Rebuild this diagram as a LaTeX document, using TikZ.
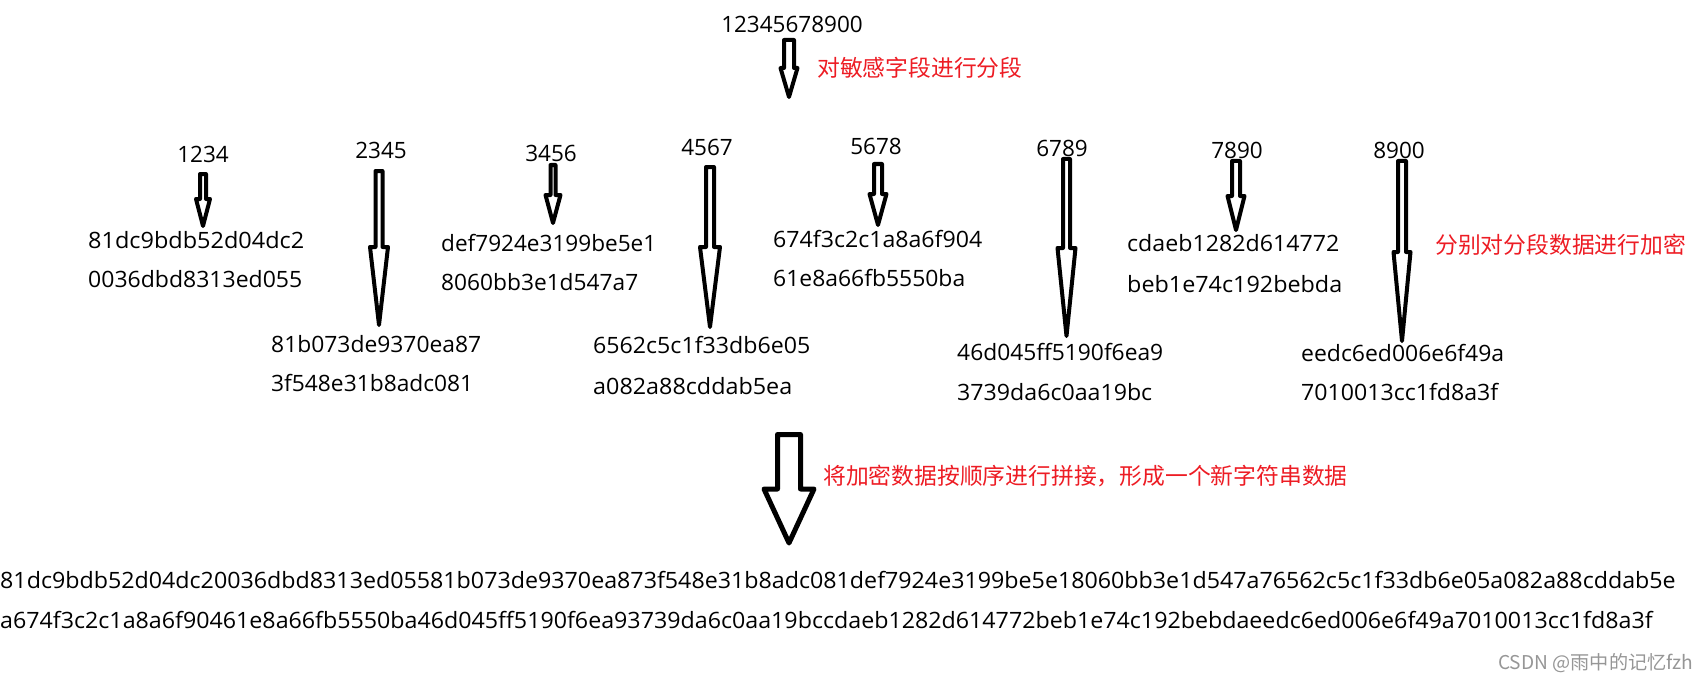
\documentclass[tikz,border=0pt]{standalone}
\usepackage{fontspec}
\usepackage{graphicx}
\setmainfont{Open Sans}
\newfontfamily\cjk{Noto Sans CJK SC}
\definecolor{notered}{RGB}{237,28,36}
\definecolor{wmgray}{RGB}{150,150,150}
\tikzset{
  num/.style={inner sep=0pt, font=\fontsize{22.5}{27}\selectfont},
  hexs/.style={inner sep=0pt, anchor=west, font=\fontsize{22.5}{27}\selectfont},
  note/.style={inner sep=0pt, anchor=west, text=notered, font=\cjk\fontsize{22.8}{27}\selectfont},
  blk/.style={draw=black, fill=white, line join=round},
}
% [line width] cx, top, headY, tip, shaft half width, head half width
\newcommand\blockarrow[7][4]{%
  \draw[blk, line width=#1pt] ({#2-#6},#3) -- ({#2+#6},#3) -- ({#2+#6},#4) -- ({#2+#7},#4)
    -- (#2,#5) -- ({#2-#7},#4) -- ({#2-#6},#4) -- cycle;}
\newcommand\hexfit[2]{\resizebox{#1pt}{\height}{#2}}
\begin{document}
\begin{tikzpicture}[x=1pt, y=-1pt]
\useasboundingbox (0,0) rectangle (1708,682);

% top value
\node[num] (src) at (792,24) {12345678900};
\blockarrow{789}{40}{68}{97}{5}{8.5}
\node[note] (n1) at (817,68) {对敏感字段进行分段};

% segment labels
\node[num] (s1) at (203,154) {1234};
\node[num] (s2) at (381,150) {2345};
\node[num] (s3) at (551,153) {3456};
\node[num] (s4) at (707,147) {4567};
\node[num] (s5) at (876,146) {5678};
\node[num] (s6) at (1062,148) {6789};
\node[num] (s7) at (1237,150) {7890};
\node[num] (s8) at (1399,150) {8900};

% arrows
\blockarrow{203}{174}{199}{226}{3}{7}
\blockarrow{379}{171}{247}{325}{3.5}{9}
\blockarrow{553}{165}{195}{223}{2.5}{7.5}
\blockarrow{710}{167}{247}{327}{4}{10}
\blockarrow{878}{164}{194}{225}{4}{8.5}
\blockarrow{1066.5}{159}{248}{336}{3.5}{9}
\blockarrow{1236}{161}{196}{230}{4}{8.5}
\blockarrow{1402}{161}{252}{341}{4}{8.5}

% encrypted values
\node[hexs] (h1a) at (88,240) {\hexfit{216}{81dc9bdb52d04dc2}};
\node[hexs] (h1b) at (88,279) {\hexfit{214}{0036dbd8313ed055}};
\node[hexs] (h2a) at (271,344) {\hexfit{210}{81b073de9370ea87}};
\node[hexs] (h2b) at (271,383) {\hexfit{202}{3f548e31b8adc081}};
\node[hexs] (h3a) at (441,243) {\hexfit{215}{def7924e3199be5e1}};
\node[hexs] (h3b) at (441,282) {\hexfit{197}{8060bb3e1d547a7}};
\node[hexs] (h4a) at (593,345) {\hexfit{217}{6562c5c1f33db6e05}};
\node[hexs] (h4b) at (593,386) {\hexfit{199}{a082a88cddab5ea}};
\node[hexs] (h5a) at (773,239) {\hexfit{209}{674f3c2c1a8a6f904}};
\node[hexs] (h5b) at (773,278) {\hexfit{192}{61e8a66fb5550ba}};
\node[hexs] (h6a) at (957,352) {\hexfit{206}{46d045ff5190f6ea9}};
\node[hexs] (h6b) at (957,392) {\hexfit{195}{3739da6c0aa19bc}};
\node[hexs] (h7a) at (1127,243) {\hexfit{212}{cdaeb1282d614772}};
\node[hexs] (h7b) at (1127,284) {\hexfit{215}{beb1e74c192bebda}};
\node[hexs] (h8a) at (1301,353) {\hexfit{203}{eedc6ed006e6f49a}};
\node[hexs] (h8b) at (1301,392) {\hexfit{197}{7010013cc1fd8a3f}};

\node[note] (n2) at (1435,245) {分别对分段数据进行加密};

% concatenation
\blockarrow[5]{789}{434.5}{489}{543}{11.5}{25}
\node[note] (n3) at (823,476) {将加密数据按顺序进行拼接，形成一个新字符串数据};

\node[hexs] (r1) at (0,580) {\hexfit{1675}{81dc9bdb52d04dc20036dbd8313ed05581b073de9370ea873f548e31b8adc081def7924e3199be5e18060bb3e1d547a76562c5c1f33db6e05a082a88cddab5e}};
\node[hexs] (r2) at (0,620) {\hexfit{1652}{a674f3c2c1a8a6f90461e8a66fb5550ba46d045ff5190f6ea93739da6c0aa19bccdaeb1282d614772beb1e74c192bebdaeedc6ed006e6f49a7010013cc1fd8a3f}};

% watermark
\node[anchor=west, inner sep=0pt, text=wmgray, font=\cjk\fontsize{19}{22}\selectfont] (wm) at (1498,663) {\resizebox{195pt}{\height}{CSDN @雨中的记忆fzh}};
\end{tikzpicture}
\end{document}
